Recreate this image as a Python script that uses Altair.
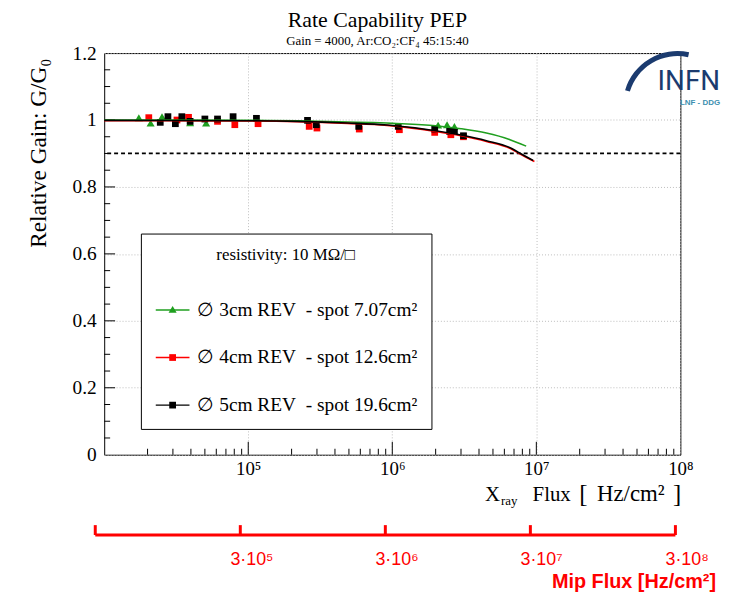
import altair as alt
import pandas as pd

# ---------------- data ----------------
series_labels = [
    "\u2205 3cm REV\u00a0 - spot 7.07cm\u00b2",
    "\u2205 4cm REV\u00a0 - spot 12.6cm\u00b2",
    "\u2205 5cm REV\u00a0 - spot 19.6cm\u00b2",
]
series_colors = ["#1f9f1f", "#ff0000", "#000000"]

g3_flux = [1.74e4, 2.1e4, 2.52e4, 3.95e4, 5.1e4, 2.08e6, 2.4e6, 2.7e6]
g3_gain = [1.005, 0.989, 1.008, 0.990, 0.989, 0.983, 0.984, 0.979]

g4_flux = [2.04e4, 3.2e4, 3.85e4, 6.12e4, 8.07e4, 1.17e5, 2.65e5, 3.0e5, 5.9e5,
           1.12e6, 1.97e6, 2.55e6, 3.12e6]
g4_gain = [1.007, 1.000, 1.008, 0.996, 0.986, 0.989, 0.981, 0.976, 0.973,
           0.971, 0.963, 0.956, 0.950]

g5_flux = [2.45e4, 2.77e4, 3.12e4, 3.46e4, 3.95e4, 5.0e4, 6.12e4, 7.85e4, 1.14e5,
           2.58e5, 2.97e5, 5.85e5, 1.1e6, 1.97e6, 2.5e6, 2.7e6, 3.12e6]
g5_gain = [0.993, 1.010, 0.989, 1.010, 0.996, 1.003, 1.003, 1.010, 1.005,
           0.999, 0.986, 0.981, 0.981, 0.973, 0.966, 0.966, 0.953]

c3_flux = [1e4, 1e5, 3e5, 1e6, 2e6, 3e6, 4.5e6, 6.5e6, 8.5e6]
c3_gain = [1.000, 0.999, 0.996, 0.990, 0.983, 0.974, 0.961, 0.942, 0.922]

c4_flux = [1e4, 1e5, 2.2e5, 4.9e5, 9.2e5, 2e6, 3e6, 4.5e6, 6.8e6, 7.6e6, 9.7e6]
c4_gain = [0.998, 0.997, 0.995, 0.990, 0.984, 0.966, 0.953, 0.936, 0.912, 0.900, 0.876]

c5_flux = [1e4, 1e5, 2.2e5, 4.9e5, 9.2e5, 2e6, 3e6, 4.5e6, 6.8e6, 7.6e6, 9.5e6]
c5_gain = [0.999, 0.998, 0.996, 0.991, 0.985, 0.968, 0.955, 0.938, 0.914, 0.902, 0.879]

threshold = [0.9]

x_label_values = [1e5, 1e6, 1e7, 1e8]
x_tick_labels = ["10\u2075", "10\u2076", "10\u2077", "10\u2078"]
y_label_values = [0, 0.2, 0.4, 0.6, 0.8, 1.0, 1.2]
x_major_ticks = [1e5, 1e6, 1e7]
x_minor_ticks = [m * 10 ** e for e in (4, 5, 6, 7) for m in range(2, 10)]
y_major_ticks = [0.2, 0.4, 0.6, 0.8, 1.0]
y_minor_ticks = [0.05, 0.1, 0.15, 0.25, 0.3, 0.35, 0.45, 0.5, 0.55, 0.65, 0.7, 0.75,
                 0.85, 0.9, 0.95, 1.05, 1.1, 1.15]

mip_ticks = [3e4, 3e5, 3e6, 3e7, 3e8]
mip_labels = ["", "3\u00b710\u2075", "3\u00b710\u2076", "3\u00b710\u2077", "3\u00b710\u2078"]

# ---------------- tables ----------------
points_df = pd.concat([
    pd.DataFrame({"flux": g3_flux, "gain": g3_gain, "series": series_labels[0]}),
    pd.DataFrame({"flux": g4_flux, "gain": g4_gain, "series": series_labels[1]}),
    pd.DataFrame({"flux": g5_flux, "gain": g5_gain, "series": series_labels[2]}),
])
curves_df = pd.concat([
    pd.DataFrame({"flux": c3_flux, "gain": c3_gain, "series": series_labels[0]}),
    pd.DataFrame({"flux": c4_flux, "gain": c4_gain, "series": series_labels[1]}),
    pd.DataFrame({"flux": c5_flux, "gain": c5_gain, "series": series_labels[2]}),
])
mip_df = pd.DataFrame({"mip": mip_ticks, "label": mip_labels})

W, H = 581, 405
SERIF = "Liberation Serif"
SANS = "Liberation Sans"

XSCALE = alt.Scale(type="log", domain=[1e4, 1e8], nice=False)
YSCALE = alt.Scale(domain=[0, 1.2], nice=False, zero=False)

x_expr = " : ".join(
    f"datum.value >= {v:g} ? '{t}'" for v, t in zip(reversed(x_label_values[1:]), reversed(x_tick_labels[1:]))
) + f" : '{x_tick_labels[0]}'"

XAXIS = alt.Axis(values=x_label_values, labelExpr=x_expr, grid=True, gridDash=[1, 2],
                 gridColor="#bdbdbd", ticks=False, tickSize=0, domain=False,
                 labelFont=SERIF, labelFontSize=19, labelColor="black", labelPadding=5,
                 labelFlush=False, labelOverlap=False, title=None)
YAXIS = alt.Axis(values=y_label_values,
                 labelExpr="datum.value == 0 ? '0' : datum.value == 1 ? '1' : format(datum.value, '.1f')",
                 grid=True, gridDash=[1, 2], gridColor="#bdbdbd", ticks=False, tickSize=0,
                 domain=False, labelFont=SERIF, labelFontSize=19.5, labelColor="black",
                 labelPadding=8, title="Relative Gain: G/G\u2080", titleFont=SERIF,
                 titleFontSize=23.5, titleFontWeight="normal", titleColor="black",
                 titleAngle=270, titleAlign="right", titleBaseline="middle",
                 titleX=-66, titleY=5)


def X(field):
    return alt.X(field, type="quantitative", scale=XSCALE, axis=XAXIS)


def Y(field):
    return alt.Y(field, type="quantitative", scale=YSCALE, axis=YAXIS)


def legend(**extra):
    kw = dict(orient="none", legendX=37, legendY=182, padding=14, title="resistivity: 10 M\u03a9/\u25a1",
              titleFont=SERIF, titleFontSize=17, titleFontWeight="normal", titleColor="black",
              titleAnchor="middle", titlePadding=28, titleLimit=400,
              labelFont=SERIF, labelFontSize=19.5, labelColor="black", labelLimit=400,
              labelOffset=7, rowPadding=20, symbolSize=1156, direction="vertical")
    kw.update(extra)
    return alt.Legend(**kw)


shape_paths = ["M0,-0.24L0.24,0.17L-0.24,0.17Z",
               "M-0.2,-0.2H0.2V0.2H-0.2Z",
               "M-0.2,-0.2H0.2V0.2H-0.2Z"]

COLOR_SCALE = alt.Scale(domain=series_labels, range=series_colors)

ymaj = alt.Chart(pd.DataFrame({"v": y_major_ticks})).mark_rule(color="black").encode(
    y=Y("v"), x=alt.value(0), x2=alt.value(11))
ymin = alt.Chart(pd.DataFrame({"v": y_minor_ticks})).mark_rule(color="black").encode(
    y=Y("v"), x=alt.value(0), x2=alt.value(6))
xmaj = alt.Chart(pd.DataFrame({"v": x_major_ticks})).mark_rule(color="black").encode(
    x=X("v"), y=alt.value(H), y2=alt.value(H - 13))
xmin = alt.Chart(pd.DataFrame({"v": x_minor_ticks})).mark_rule(color="black").encode(
    x=X("v"), y=alt.value(H), y2=alt.value(H - 6))

thr = alt.Chart(pd.DataFrame({"v": threshold})).mark_rule(
    color="black", strokeDash=[4, 3], strokeWidth=1.8).encode(y=Y("v"))

point_legend = legend(fillColor="white", strokeColor="black")
points = alt.Chart(points_df).mark_point(filled=True, opacity=1, size=1156).encode(
    x=X("flux"), y=Y("gain"),
    color=alt.Color("series:N", scale=COLOR_SCALE, legend=point_legend),
    shape=alt.Shape("series:N", scale=alt.Scale(domain=series_labels, range=shape_paths),
                    legend=point_legend),
)

curves = alt.Chart(curves_df).mark_line(strokeWidth=1.6, interpolate="monotone").encode(
    x=X("flux"), y=Y("gain"),
    color=alt.Color("series:N", scale=COLOR_SCALE,
                    legend=legend(symbolType="stroke", symbolStrokeWidth=1.5,
                                  labelOpacity=0, titleOpacity=0)),
)


def label(text, x, y, size, font=SERIF, align="left", color="black", weight="normal", baseline="alphabetic"):
    return alt.Chart(pd.DataFrame({"t": [text]})).mark_text(
        align=align, baseline=baseline, font=font, fontSize=size, color=color, fontWeight=weight
    ).encode(text="t:N", x=alt.value(x), y=alt.value(y))


xtitle = alt.layer(
    label("X", 384, 452, 21),
    label("ray", 400, 456, 13),
    label("Flux", 432, 452, 21),
    label("[", 479, 453, 25),
    label("Hz/cm\u00b2", 531, 452, 23, align="center"),
    label("]", 582, 453, 25, align="right"),
)

logo_arc = alt.Chart(pd.DataFrame({"t": ["logo"]})).mark_arc(color="#1b3b6f").encode(
    x=alt.value(578), y=alt.value(53), radius=alt.value(55), radius2=alt.value(50),
    theta=alt.value(5.0), theta2=alt.value(6.5))
logo = alt.layer(
    logo_arc,
    label("INFN", 558, 37, 28, font="Roboto", color="#1b3b6f"),
    label("LNF - DDG", 621, 52, 8, font=SANS, color="#3d8fb0", align="right", weight="bold"),
)

main = alt.layer(ymaj, ymin, xmaj, xmin, thr, points, curves, xtitle, logo).resolve_scale(
    color="independent", shape="independent").resolve_legend(color="independent")

RSCALE = alt.Scale(type="log", domain=[34570, 3.246e8], nice=False)
red_line = alt.Chart(mip_df).mark_rule(color="#ff0000", strokeWidth=3).encode(
    x=alt.X("min(mip):Q", scale=RSCALE, axis=None), x2="max(mip)", y=alt.value(486))
red_ticks = alt.Chart(mip_df).mark_rule(color="#ff0000", strokeWidth=3).encode(
    x=alt.X("mip:Q", scale=RSCALE, axis=None), y=alt.value(486), y2=alt.value(476))
red_labels = alt.Chart(mip_df).mark_text(
    color="#ff0000", font=SANS, fontSize=18, align="left", baseline="middle", dx=-10).encode(
    x=alt.X("mip:Q", scale=RSCALE, axis=None), y=alt.value(511), text="label:N")
red_title = label("Mip Flux [Hz/cm\u00b2]", 617, 539, 20, font=SANS, color="#ff0000",
                  align="right", weight="bold")
red = alt.layer(red_line, red_ticks, red_labels, red_title)

chart = alt.layer(main, red).resolve_scale(x="independent").properties(
    width=W, height=H,
    padding={"left": 97, "top": 43, "right": 45, "bottom": 137},
    autosize=alt.AutoSizeParams(type="none"),
    title=alt.TitleParams(
        text="Rate Capability PEP", subtitle="Gain = 4000, Ar:CO\u2082:CF\u2084 45:15:40",
        font=SERIF, fontSize=22, fontWeight="normal", color="black",
        subtitleFont=SERIF, subtitleFontSize=13, subtitleColor="black",
        anchor="middle", dx=-15, offset=-6, subtitlePadding=3),
).configure_view(stroke="black", strokeWidth=1)

chart.save("out.html", embed_options={"renderer": "svg", "actions": False})
